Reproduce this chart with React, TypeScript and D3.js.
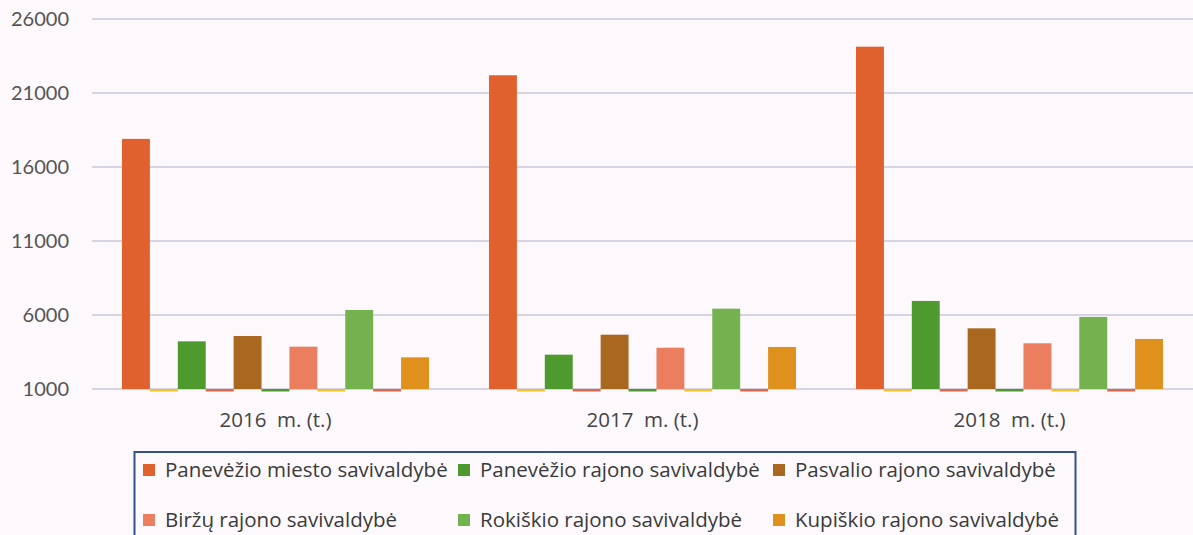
import React from "react";
import * as d3 from "d3";

const years = ["2016  m. (t.)", "2017  m. (t.)", "2018  m. (t.)"];
const seriesNames = [
  "Panevėžio miesto savivaldybė",
  "Panevėžio rajono savivaldybė",
  "Pasvalio rajono savivaldybė",
  "Biržų rajono savivaldybė",
  "Rokiškio rajono savivaldybė",
  "Kupiškio rajono savivaldybė",
];
const seriesColors = ["#e0602e", "#4f9a2f", "#a9671f", "#ea7e5f", "#73b24f", "#e0901c"];
const miesto = [17900, 22200, 24130];
const rajono = [4220, 3320, 6950];
const pasvalio = [4580, 4670, 5100];
const birzu = [3860, 3790, 4090];
const rokiskio = [6340, 6430, 5870];
const kupiskio = [3140, 3840, 4380];
const seriesValues = [miesto, rajono, pasvalio, birzu, rokiskio, kupiskio];
// hidden series drawn between the visible ones (value 0, below axis minimum)
const spacerColors = ["#f2c12a", "#e0684a", "#4f9a2f", "#f2c12a", "#e0684a"];
const spacerValues = [0, 0, 0, 0, 0];
const yTicks = [1000, 6000, 11000, 16000, 21000, 26000];

const W = 1193;
const H = 535;
const font = "Lato, 'Open Sans', sans-serif";
const legendFont = "'Open Sans', Lato, sans-serif";

export default function App() {
  const x = d3.scaleBand<string>().domain(years).range([92, 1193]).paddingInner(0.1635).paddingOuter(0.0817);
  const slots: { kind: "bar" | "spacer"; idx: number }[] = [];
  seriesNames.forEach((_, i) => {
    slots.push({ kind: "bar", idx: i });
    if (i < spacerColors.length) slots.push({ kind: "spacer", idx: i });
  });
  const xs = d3.scaleBand<number>().domain(d3.range(slots.length)).range([0, x.bandwidth()]);
  const y = d3.scaleLinear().domain([1000, 26000]).range([389, 19]);

  return (
    <svg width={W} height={H} style={{ position: "absolute", left: 0, top: 0, background: "#fdf8fc" }}>
      <rect x={0} y={0} width={W} height={H} fill="#fdf8fc" />
      {yTicks.map((t) => (
        <g key={t}>
          <line x1={92} x2={1193} y1={y(t)} y2={y(t)} stroke="#cbc6de" strokeWidth={1.5} />
          <text x={69} y={y(t)} dy="0.36em" textAnchor="end" fontFamily={font} fontSize={20} fill="#555">
            {t}
          </text>
        </g>
      ))}
      {years.map((yr, gi) => (
        <g key={yr} transform={`translate(${x(yr)},0)`}>
          {slots.map((s, si) => {
            if (s.kind === "bar") {
              const v = seriesValues[s.idx][gi];
              return (
                <rect
                  key={si}
                  x={xs(si)}
                  y={y(v)}
                  width={xs.bandwidth()}
                  height={y(1000) - y(v)}
                  fill={seriesColors[s.idx]}
                />
              );
            }
            const v = spacerValues[s.idx];
            return (
              <rect
                key={si}
                x={xs(si)}
                y={y(1000)}
                width={xs.bandwidth()}
                height={Math.min(2.5, y(v) - y(1000))}
                fill={spacerColors[s.idx]}
              />
            );
          })}
          <text
            x={x.bandwidth() / 2}
            y={420}
            dy="0.36em"
            textAnchor="middle"
            fontFamily={legendFont}
            fontSize={20.5}
            fill="#444"
            style={{ whiteSpace: "pre" }}
          >
            {yr}
          </text>
        </g>
      ))}
      <rect x={134.5} y={452} width={941} height={100} fill="none" stroke="#35508f" strokeWidth={2} />
      {seriesNames.map((n, i) => {
        const col = i % 3;
        const row = Math.floor(i / 3);
        const lx = 143 + col * 315;
        const ly = 470 + row * 50;
        return (
          <g key={n}>
            <rect x={lx} y={ly - 6} width={12} height={12} fill={seriesColors[i]} />
            <text x={lx + 22} y={ly} dy="0.36em" fontFamily={legendFont} fontSize={20.5} fill="#3a3a3a">
              {n}
            </text>
          </g>
        );
      })}
    </svg>
  );
}
